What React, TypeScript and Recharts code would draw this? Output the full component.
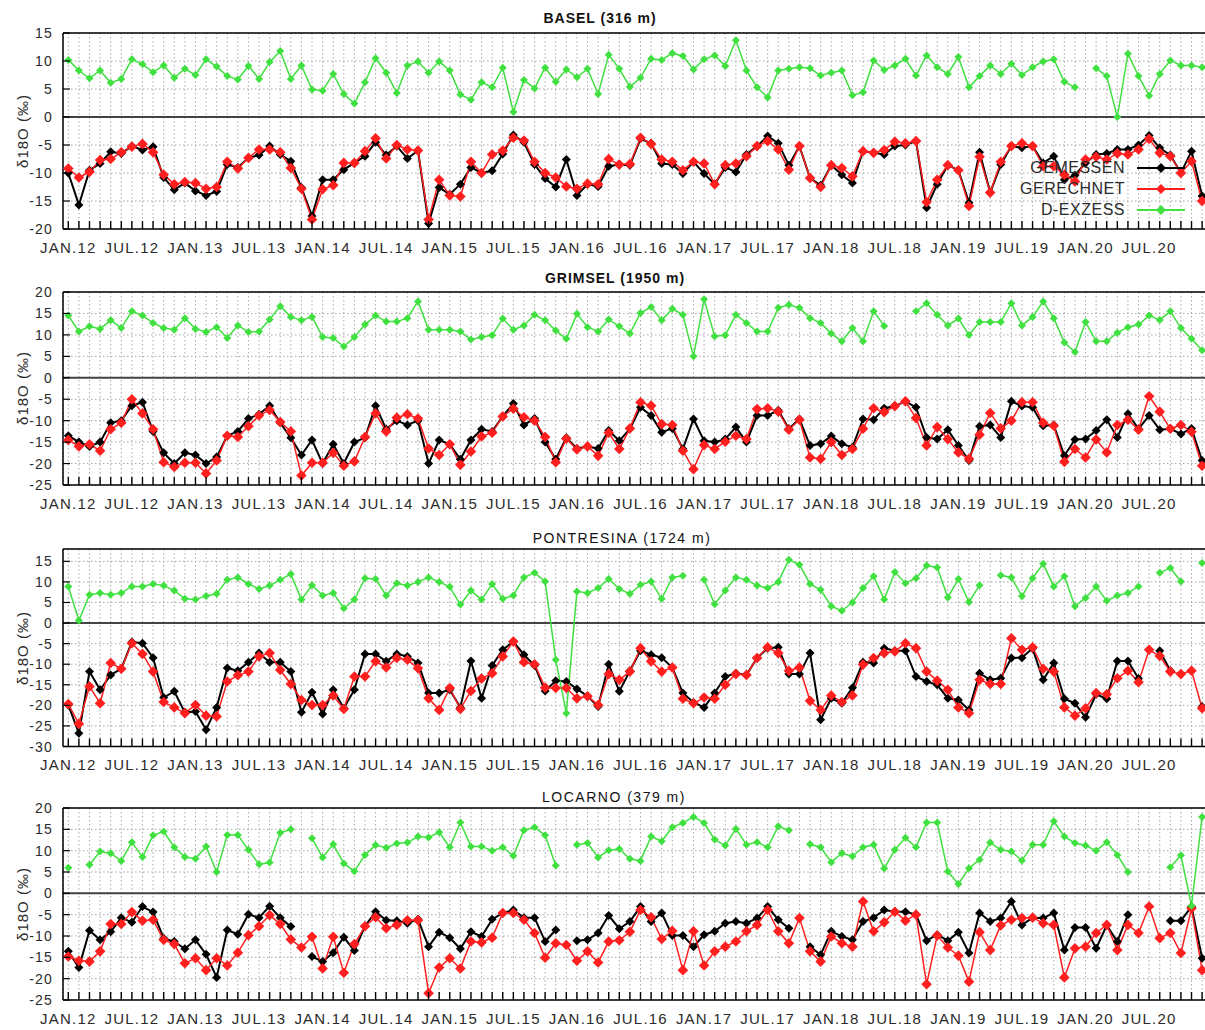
import React from "react";
import { LineChart, Line, XAxis, YAxis, CartesianGrid, ReferenceLine, Legend } from "recharts";

const FONT = '"Liberation Sans", Arial, Helvetica, sans-serif';
const INK = "#2b2b2b";

// Monthly samples Jan 2012 .. Dec 2020 (index 0 = JAN.12)
const MONTHS = Array.from({ length: 108 }, (_, i) => i);
const MONTH_TICKS = Array.from({ length: 109 }, (_, i) => i);
const SERIES_ORDER = ["GEMESSEN", "GERECHNET", "D-EXZESS"];

// BASEL (316 m)
const baselGemessen = [
  -10.0, -15.7, -9.5, -8.3, -6.2, -6.5, -5.2, -5.9, -5.3, -10.8, -13.0, -11.8,
  -13.2, -14.0, -13.3, -8.5, -9.0, -7.3, -6.8, -5.2, -6.7, -7.9, -12.6, -17.7,
  -11.2, -11.2, -9.4, -8.2, -7.0, -4.5, -6.8, -5.2, -7.4, -6.0, -19.0, -12.6,
  -13.8, -12.0, -9.0, -10.0, -9.6, -6.6, -3.2, -4.5, -8.5, -11.0, -12.5, -7.6,
  -14.0, -12.0, -12.4, -8.8, -8.5, -8.6, -3.9, -4.7, -8.3, -8.5, -10.1, -8.0,
  -10.1, -12.0, -9.0, -9.8, -6.7, -5.2, -3.4, -4.7, -8.6, -5.2, -10.9, -12.2,
  -8.6, -10.3, -11.8, -6.1, -6.4, -6.7, -5.2, -5.0, -4.3, -16.2, -12.0, -8.6,
  -9.5, -15.3, -6.3, -13.5, -8.5, -5.2, -5.5, -5.2, -8.2, -7.0, -11.2, -10.4,
  -8.2, -6.7, -6.5, -5.8, -5.8, -5.0, -3.3, -5.5, -6.8, -10.0, -6.1, -14.1,
];
const baselGerechnet = [
  -9.2, -10.8, -9.8, -7.7, -7.5, -6.3, -5.3, -4.8, -6.3, -10.3, -12.0, -11.6,
  -11.8, -12.8, -12.5, -8.0, -9.2, -7.3, -5.8, -5.8, -6.3, -9.1, -12.8, -18.3,
  -12.9, -12.2, -8.2, -8.2, -6.1, -3.8, -7.4, -5.0, -5.8, -6.0, -18.3, -11.2,
  -14.0, -14.2, -8.0, -10.0, -6.7, -6.0, -3.7, -4.2, -8.0, -10.0, -10.8, -12.4,
  -12.8, -11.9, -12.0, -7.5, -8.5, -8.4, -3.7, -4.8, -7.6, -8.0, -9.5, -8.0,
  -8.3, -12.0, -8.6, -8.3, -7.0, -5.2, -4.3, -5.8, -9.4, -5.2, -10.9, -12.5,
  -8.6, -9.1, -10.6, -6.1, -6.4, -5.9, -4.4, -4.7, -4.3, -15.2, -11.2, -8.6,
  -9.5, -15.9, -7.1, -13.5, -8.0, -5.2, -4.7, -5.2, -8.8, -8.8, -10.3, -11.5,
  -7.6, -7.1, -7.6, -6.5, -6.7, -5.8, -3.9, -6.4, -7.0, -10.0, -7.9, -15.0,
];
const baselExzess = [
  10.2, 8.3, 6.9, 8.3, 6.1, 6.8, 10.3, 9.4, 8.0, 9.2, 7.0, 8.6,
  7.5, 10.3, 9.0, 7.3, 6.7, 9.1, 6.8, 9.8, 11.8, 6.8, 9.2, 4.9,
  4.7, 7.7, 4.1, 2.4, 6.2, 10.5, 7.9, 4.3, 9.2, 9.9, 7.9, 9.9,
  8.3, 4.0, 3.1, 6.2, 5.3, 8.8, 0.9, 6.6, 5.1, 8.8, 6.3, 8.5,
  7.1, 8.6, 4.1, 11.1, 8.6, 5.4, 7.0, 10.4, 10.2, 11.4, 10.9, 8.5,
  10.3, 11.0, 9.1, 13.7, 8.3, 5.3, 3.5, 8.3, 8.6, 8.9, 8.7, 7.4,
  7.9, 8.3, 3.9, 4.4, 10.1, 8.4, 9.2, 10.4, 7.4, 11.0, 8.9, 7.7,
  10.7, 5.3, 7.3, 9.2, 7.7, 9.5, 7.5, 8.9, 9.9, 10.3, 6.3, 5.3,
  null, 8.7, 7.3, 0.0, 11.3, 7.3, 3.8, 7.7, 10.1, 9.2, 9.2, 8.9,
];

// GRIMSEL (1950 m)
const grimselGemessen = [
  -13.5, -15.0, -16.0, -15.0, -10.5, -10.0, -6.5, -5.7, -12.5, -17.5, -20.0, -17.5,
  -18.0, -20.0, -18.5, -13.5, -12.5, -9.5, -8.5, -6.5, -10.5, -14.0, -18.0, -14.5,
  -20.0, -15.5, -20.0, -15.0, -14.0, -6.5, -12.0, -10.0, -11.0, -10.0, -20.0, -14.5,
  -15.5, -19.0, -14.5, -12.0, -12.5, -9.0, -6.0, -11.0, -9.5, -15.0, -19.0, -14.0,
  -16.5, -16.0, -16.5, -12.3, -14.7, -11.9, -6.9, -8.8, -12.7, -11.8, -16.6, -9.6,
  -14.7, -15.0, -14.3, -11.5, -15.0, -8.8, -8.8, -7.6, -11.9, -9.6, -15.8, -15.4,
  -13.6, -15.4, -16.2, -9.6, -9.8, -7.1, -6.6, -5.5, -6.9, -13.9, -14.3, -12.1,
  -15.8, -19.3, -11.3, -11.0, -13.9, -5.5, -6.6, -6.9, -11.2, -11.0, -18.2, -14.4,
  -14.3, -12.3, -9.8, -13.9, -8.4, -11.9, -8.8, -12.1, -11.9, -13.1, -11.8, -19.3,
];
const grimselGerechnet = [
  -14.5, -16.0, -15.5, -17.0, -12.0, -10.5, -5.0, -8.3, -12.0, -19.7, -20.8, -19.8,
  -19.8, -22.3, -19.3, -13.5, -13.8, -11.3, -8.8, -7.5, -10.3, -12.5, -22.8, -19.8,
  -19.8, -17.5, -20.5, -19.5, -13.8, -8.3, -12.5, -9.3, -8.5, -9.5, -16.5, -18.0,
  -15.5, -20.3, -17.2, -13.7, -12.8, -9.0, -7.2, -9.2, -10.0, -13.8, -19.7, -14.2,
  -16.7, -16.0, -18.2, -12.8, -16.6, -11.8, -5.7, -6.5, -10.8, -11.0, -17.0, -21.3,
  -15.7, -16.6, -14.9, -13.5, -14.3, -7.3, -7.1, -7.9, -12.1, -9.8, -18.6, -18.9,
  -15.0, -18.0, -16.6, -11.9, -7.1, -8.0, -6.6, -5.5, -9.4, -15.8, -11.5, -14.3,
  -17.4, -18.9, -13.3, -8.2, -11.8, -10.0, -5.7, -5.7, -10.5, -11.2, -19.6, -16.6,
  -18.6, -14.4, -17.4, -11.0, -9.8, -12.1, -4.3, -7.9, -11.9, -11.0, -12.6, -20.5,
];
const grimselExzess = [
  14.5, 10.8, 12.0, 11.4, 13.4, 11.6, 15.5, 14.5, 12.8, 11.6, 11.2, 13.9,
  11.4, 10.7, 11.8, 9.3, 12.2, 10.7, 10.8, 13.6, 16.7, 14.2, 13.4, 14.2,
  9.5, 9.3, 7.3, 9.5, 12.4, 14.5, 13.1, 13.1, 13.9, 17.8, 11.2, 11.2,
  11.2, 10.8, 8.9, 9.5, 9.9, 13.8, 11.2, 12.2, 14.7, 13.4, 11.0, 9.1,
  14.9, 11.8, 10.8, 13.6, 12.0, 10.3, 15.1, 16.5, 13.4, 16.1, 14.7, 5.0,
  18.3, 9.7, 9.9, 14.7, 12.8, 10.8, 10.8, 16.3, 17.0, 16.3, 13.9, 12.8,
  10.3, 8.5, 11.6, 8.5, 15.5, 12.1, null, null, 15.5, 17.4, 14.7, 12.2,
  13.8, 10.0, 13.0, 13.0, 13.0, 17.4, 12.2, 14.2, 17.8, 13.9, 8.2, 6.0,
  13.0, 8.5, 8.5, 10.5, 11.8, 12.4, 14.5, 13.5, 15.5, 11.6, 9.1, 6.4,
];

// PONTRESINA (1724 m)
const pontresinaGemessen = [
  -19.9, -26.8, -11.8, -16.2, -12.6, -11.1, -4.6, -4.9, -8.4, -18.1, -16.6, -21.7,
  -21.5, -25.9, -20.5, -10.9, -11.6, -9.5, -7.3, -9.5, -9.5, -11.8, -21.7, -16.8,
  -22.1, -16.2, -20.7, -16.2, -7.5, -7.5, -9.3, -7.5, -8.1, -9.7, -17.0, -17.0,
  -16.2, -20.5, -9.2, -18.3, -10.3, -6.5, -4.5, -7.7, -10.3, -16.5, -14.0, -14.2,
  -16.0, -17.8, -20.3, -10.0, -16.6, -11.6, -6.7, -7.7, -8.4, -10.8, -17.0, -19.3,
  -20.5, -17.0, -13.0, -12.2, -12.6, -8.5, -6.1, -5.9, -12.4, -12.4, -7.3, -23.5,
  -18.3, -19.5, -15.7, -9.5, -9.7, -6.1, -6.7, -6.7, -13.0, -14.2, -15.0, -18.3,
  -18.7, -21.1, -12.2, -13.8, -13.4, -8.5, -8.4, -6.2, -13.8, -9.7, -18.4, -19.5,
  -22.9, -17.3, -18.4, -9.2, -9.2, -13.5, null, -6.7, -11.6, null, null, -20.3,
];
const pontresinaGerechnet = [
  -19.7, -24.5, -15.4, -19.5, -9.7, -11.1, -4.9, -7.5, -11.8, -19.2, -20.5, -21.9,
  -19.9, -22.5, -22.7, -14.2, -12.7, -11.8, -8.1, -7.3, -11.4, -14.8, -18.7, -19.9,
  -19.9, -17.6, -20.9, -13.0, -13.0, -9.3, -10.8, -8.5, -8.9, -11.0, -18.3, -21.1,
  -15.8, -20.9, -16.5, -13.5, -12.2, -8.1, -4.5, -9.5, -10.0, -15.7, -15.8, -15.8,
  -18.3, -17.8, -19.9, -12.4, -13.8, -11.8, -6.1, -9.3, -11.8, -10.8, -18.4, -19.5,
  -18.1, -18.4, -15.0, -12.4, -12.6, -8.5, -5.9, -7.3, -11.6, -10.8, -18.9, -21.1,
  -17.6, -19.2, -17.6, -10.1, -8.5, -7.3, -6.9, -4.9, -6.1, -11.8, -14.0, -16.2,
  -20.5, -21.9, -13.8, -14.8, -14.8, -3.7, -6.5, -5.9, -11.1, -11.8, -20.5, -22.5,
  -20.7, -17.0, -17.3, -13.4, -11.6, -14.4, -6.5, -8.0, -11.8, -12.4, -11.6, -20.7,
];
const pontresinaExzess = [
  8.9, 0.6, 6.9, 7.3, 6.9, 7.3, 8.9, 8.9, 9.5, 9.1, 7.9, 5.9,
  5.7, 6.6, 7.1, 10.5, 11.1, 9.5, 8.3, 9.1, 10.5, 11.9, 5.7, 9.2,
  6.7, 7.3, 3.6, 5.7, 10.9, 10.7, 6.7, 9.7, 9.1, 10.0, 11.1, 10.0,
  8.8, 4.5, 7.9, 5.7, 9.5, 5.9, 6.7, 11.1, 12.2, 10.1, -8.9, -21.9,
  7.7, 7.3, 8.5, 10.7, 8.3, 7.1, 9.3, 10.1, 5.9, 11.1, 11.5, null,
  10.5, 4.6, 7.9, 11.1, 10.5, 9.1, 8.5, 10.0, 15.4, 14.2, 9.5, 8.1,
  4.1, 3.0, 5.0, 8.5, 11.4, 5.7, 12.4, 9.7, 10.9, 14.0, 13.5, 6.2,
  10.7, 5.1, 9.2, null, 11.6, 11.1, 6.5, 10.9, 14.4, 8.9, 11.4, 4.1,
  6.1, 8.9, 5.4, 6.7, 7.3, 8.9, null, 12.2, 13.4, 10.1, null, 14.6,
];

// LOCARNO (379 m)
const locarnoGemessen = [
  -13.6, -17.4, -8.7, -10.9, -9.0, -5.7, -6.8, -3.1, -4.4, -10.5, -11.3, -13.0,
  -10.9, -14.3, -19.7, -8.6, -9.6, -4.9, -5.7, -3.0, -5.7, -7.8, null, -14.8,
  -16.0, -13.9, -10.3, -13.4, -7.7, -4.3, -6.3, -6.4, -7.0, -6.1, -12.5, -9.1,
  -10.4, -13.0, -9.0, -10.1, -6.1, -4.6, -3.9, -5.7, -5.7, -11.3, -8.6, null,
  -11.1, -10.9, -9.3, -5.2, -8.3, -6.6, -3.1, -6.6, -4.6, -9.9, -9.9, -12.5,
  -9.7, -8.9, -7.0, -6.6, -7.0, -5.8, -3.1, -6.2, -8.2, null, -12.5, -14.4,
  -8.9, -10.1, -10.9, -6.6, -5.7, -3.9, -4.3, -4.3, -5.0, -11.1, -9.7, -11.1,
  -9.1, -14.0, -4.6, -6.6, -5.8, -1.9, -7.4, -5.7, -5.8, -4.6, -13.3, -8.0,
  -8.0, -12.9, -7.5, -11.3, -5.0, null, null, null, -6.4, -6.4, -3.1, -15.2,
];
const locarnoGerechnet = [
  -14.8, -15.8, -16.0, -13.6, -7.2, -7.2, -4.4, -6.4, -6.2, -10.9, -11.9, -16.4,
  -15.2, -18.0, -15.2, -16.9, -13.9, -9.8, -7.7, -5.1, -7.2, -10.8, -12.7, -10.2,
  -17.6, -10.2, -18.6, -11.9, -7.7, -5.6, -8.2, -7.4, -6.3, -6.3, -23.4, -17.4,
  -15.2, -17.6, -11.3, -11.5, -10.4, -4.6, -4.6, -6.2, -9.3, -15.1, -11.7, -12.1,
  -15.8, -13.6, -16.2, -11.3, -11.0, -9.0, -3.9, -5.6, -10.7, -8.8, -18.0, -8.9,
  -16.9, -13.6, -12.5, -11.3, -8.9, -7.4, -3.9, -8.9, -11.7, -5.8, -13.6, -16.0,
  -10.1, -11.7, -12.5, -1.9, -8.9, -6.8, -4.3, -6.4, -5.0, -21.3, -9.9, -12.7,
  -14.6, -20.7, -9.1, -13.3, -7.5, -6.2, -5.8, -5.7, -7.0, -7.4, -19.7, -12.9,
  -12.5, -9.3, -7.4, -13.3, -7.4, -9.3, -3.1, -10.5, -9.3, -14.0, -3.5, -18.0,
];
const locarnoExzess = [
  6.0, null, 6.7, 9.8, 9.4, 7.6, 12.0, 8.5, 13.6, 14.5, 10.8, 8.5,
  8.1, 11.0, 5.0, 13.7, 13.7, 10.2, 6.8, 7.2, 14.2, 15.0, null, 12.9,
  8.4, 11.5, 7.0, 5.2, 9.0, 11.3, 10.7, 11.7, 11.9, 13.3, 13.1, 14.3,
  10.8, 16.6, 11.0, 11.0, 10.0, 10.8, 8.8, 14.8, 15.5, 13.6, 6.5, null,
  11.4, 11.8, 8.4, 10.1, 10.4, 8.1, 7.6, 13.3, 12.2, 15.5, 16.5, 17.9,
  16.5, 12.6, 11.2, 15.1, 11.4, 12.0, 10.8, 15.7, 14.8, null, 11.5, 10.8,
  7.3, 9.4, 8.7, 10.8, 11.4, 5.8, 10.2, 13.0, 10.8, 16.6, 16.6, 5.1,
  2.2, 5.9, 7.9, 11.9, 10.2, 9.8, 7.7, 11.4, 11.4, 16.9, 13.3, 11.8,
  11.2, 10.0, 12.0, 9.0, 5.0, null, null, null, 6.1, 8.9, -2.9, 17.9,
];

const ticks20 = [-20, -15, -10, -5, 0, 5, 10, 15];
const ticks25 = [-25, -20, -15, -10, -5, 0, 5, 10, 15, 20];
const ticks30 = [-30, -25, -20, -15, -10, -5, 0, 5, 10, 15];

type Panel = {
  title: string;
  bold: boolean;
  titleX: number;
  titleY: number;
  plotTop: number;
  plotHeight: number;
  domain: [number, number];
  yTicks: number[];
  gemessen: (number | null)[];
  gerechnet: (number | null)[];
  exzess: (number | null)[];
  legend?: boolean;
};

const PANELS: Panel[] = [
  { title: "BASEL (316 m)", bold: true, titleX: 600, titleY: 18, plotTop: 32.5, plotHeight: 196, domain: [-20, 15], yTicks: ticks20, gemessen: baselGemessen, gerechnet: baselGerechnet, exzess: baselExzess, legend: true },
  { title: "GRIMSEL (1950 m)", bold: true, titleX: 615, titleY: 278, plotTop: 291.5, plotHeight: 193, domain: [-25, 20], yTicks: ticks25, gemessen: grimselGemessen, gerechnet: grimselGerechnet, exzess: grimselExzess },
  { title: "PONTRESINA (1724 m)", bold: false, titleX: 622, titleY: 538, plotTop: 549, plotHeight: 197.5, domain: [-30, 18], yTicks: ticks30, gemessen: pontresinaGemessen, gerechnet: pontresinaGerechnet, exzess: pontresinaExzess },
  { title: "LOCARNO (379 m)", bold: false, titleX: 614, titleY: 797, plotTop: 808, plotHeight: 192, domain: [-25, 20], yTicks: ticks25, gemessen: locarnoGemessen, gerechnet: locarnoGerechnet, exzess: locarnoExzess },
];

const COLORS = { gemessen: "#000000", gerechnet: "#ff1f1f", exzess: "#3fe03f" };
const TOP_PAD = 10;

const monthLabel = (m: number) => (m % 12 === 0 ? "JAN." : "JUL.") + (12 + Math.floor(m / 12));

// bottom axis: inward monthly tick marks, labels every six months (the series ends with 2020)
function MonthTick(props: any) {
  const { x, y, payload } = props;
  const m = payload.value;
  return (
    <g>
      <line x1={x} x2={x} y1={y} y2={y - 8} stroke="#000" strokeWidth={1.4} />
      {m % 6 === 0 && m < 108 && (
        <text x={x} y={y + 18} textAnchor="middle" dominantBaseline="central" fontSize={15} letterSpacing={1.2} fill={INK} fontFamily={FONT}>
          {monthLabel(m)}
        </text>
      )}
    </g>
  );
}

function ValueTick(props: any) {
  const { x, y, payload } = props;
  return (
    <g>
      <line x1={x + 10} x2={x + 17} y1={y} y2={y} stroke="#000" strokeWidth={1.2} />
      <text x={x} y={y} textAnchor="end" dominantBaseline="central" fontSize={14} letterSpacing={1.2} fill={INK} fontFamily={FONT}>
        {payload.value}
      </text>
    </g>
  );
}

const diamond = (fill: string, r: number) => (p: any) => {
  const { cx, cy, index, value } = p;
  if (value == null || cx == null || cy == null || Number.isNaN(cx) || Number.isNaN(cy)) {
    return <g key={`n${index}`} />;
  }
  return <path key={`d${index}`} d={`M${cx} ${cy - r}L${cx + r} ${cy}L${cx} ${cy + r}L${cx - r} ${cy}Z`} fill={fill} />;
};

function SeriesKey({ payload }: any) {
  const items = [...(payload || [])].sort((a, b) => SERIES_ORDER.indexOf(a.value) - SERIES_ORDER.indexOf(b.value));
  return (
    <div style={{ fontFamily: FONT, fontSize: 16, color: INK }}>
      {items.map((e: any) => (
        <div key={e.value} style={{ display: "flex", alignItems: "center", height: 21 }}>
          <span style={{ width: 125, textAlign: "right", letterSpacing: 0.5, whiteSpace: "nowrap" }}>{e.value}</span>
          <svg width={50} height={12} style={{ marginLeft: 12 }}>
            <line x1={0} x2={48} y1={6} y2={6} stroke={e.color} strokeWidth={2} />
            <path d="M24 1L29 6L24 11L19 6Z" fill={e.color} />
          </svg>
        </div>
      ))}
    </div>
  );
}

function StationPanel({ panel }: { panel: Panel }) {
  const rows = MONTHS.map((m, i) => ({
    m,
    gemessen: panel.gemessen[i],
    gerechnet: panel.gerechnet[i],
    exzess: panel.exzess[i],
  }));
  const top = panel.plotTop - TOP_PAD;
  return (
    <>
      <div style={{ position: "absolute", left: 0, top }}>
        <LineChart width={1218} height={panel.plotHeight + TOP_PAD + 30} data={rows} margin={{ top: TOP_PAD, right: 0, bottom: 0, left: 0 }}>
          <CartesianGrid stroke="#a8a8a8" strokeDasharray="1.5 2.5" />
          <XAxis
            type="number"
            dataKey="m"
            domain={[-0.5, 108.5]}
            allowDataOverflow
            ticks={MONTH_TICKS}
            interval={0}
            tick={<MonthTick />}
            tickSize={0}
            tickMargin={0}
            tickLine={false}
            axisLine={{ stroke: "#000", strokeWidth: 1.5 }}
            height={30}
          />
          <YAxis
            type="number"
            domain={panel.domain}
            allowDataOverflow
            ticks={panel.yTicks}
            interval={0}
            tick={<ValueTick />}
            tickSize={0}
            tickMargin={10}
            tickLine={false}
            axisLine={{ stroke: "#000", strokeWidth: 1.5 }}
            width={63}
          />
          <ReferenceLine y={0} stroke="#444" strokeWidth={2} />
          <ReferenceLine y={panel.domain[1]} stroke="#000" strokeWidth={1.5} />
          <Line type="linear" dataKey="gemessen" name="GEMESSEN" stroke={COLORS.gemessen} strokeWidth={2} dot={diamond(COLORS.gemessen, 4.5)} activeDot={false} isAnimationActive={false} />
          <Line type="linear" dataKey="gerechnet" name="GERECHNET" stroke={COLORS.gerechnet} strokeWidth={1.5} dot={diamond(COLORS.gerechnet, 5.3)} activeDot={false} isAnimationActive={false} />
          <Line type="linear" dataKey="exzess" name="D-EXZESS" stroke={COLORS.exzess} strokeWidth={1.5} dot={diamond(COLORS.exzess, 4)} activeDot={false} isAnimationActive={false} />
          {panel.legend && (
            <Legend
              layout="vertical"
              align="center"
              verticalAlign="middle"
              content={<SeriesKey />}
              wrapperStyle={{ left: 1000, top: 135, width: 200 }}
            />
          )}
        </LineChart>
      </div>
      <div
        style={{
          position: "absolute",
          left: panel.titleX,
          top: panel.titleY,
          transform: "translate(-50%, -50%)",
          fontSize: 14,
          fontWeight: panel.bold ? 700 : 400,
          letterSpacing: panel.bold ? 1 : 1.5,
          color: "#111",
          whiteSpace: "nowrap",
        }}
      >
        {panel.title}
      </div>
      <div
        style={{
          position: "absolute",
          left: 22,
          top: panel.plotTop + panel.plotHeight / 2,
          transform: "translate(-50%, -50%) rotate(-90deg)",
          fontSize: 15,
          letterSpacing: 1,
          color: INK,
          whiteSpace: "nowrap",
        }}
      >
        δ18O (‰)
      </div>
    </>
  );
}

export default function App() {
  return (
    <div
      style={{
        position: "absolute",
        left: 0,
        top: 0,
        width: 1205,
        height: 1030,
        overflow: "hidden",
        background: "#fff",
        fontFamily: FONT,
      }}
    >
      {PANELS.map((p) => (
        <StationPanel key={p.title} panel={p} />
      ))}
    </div>
  );
}
